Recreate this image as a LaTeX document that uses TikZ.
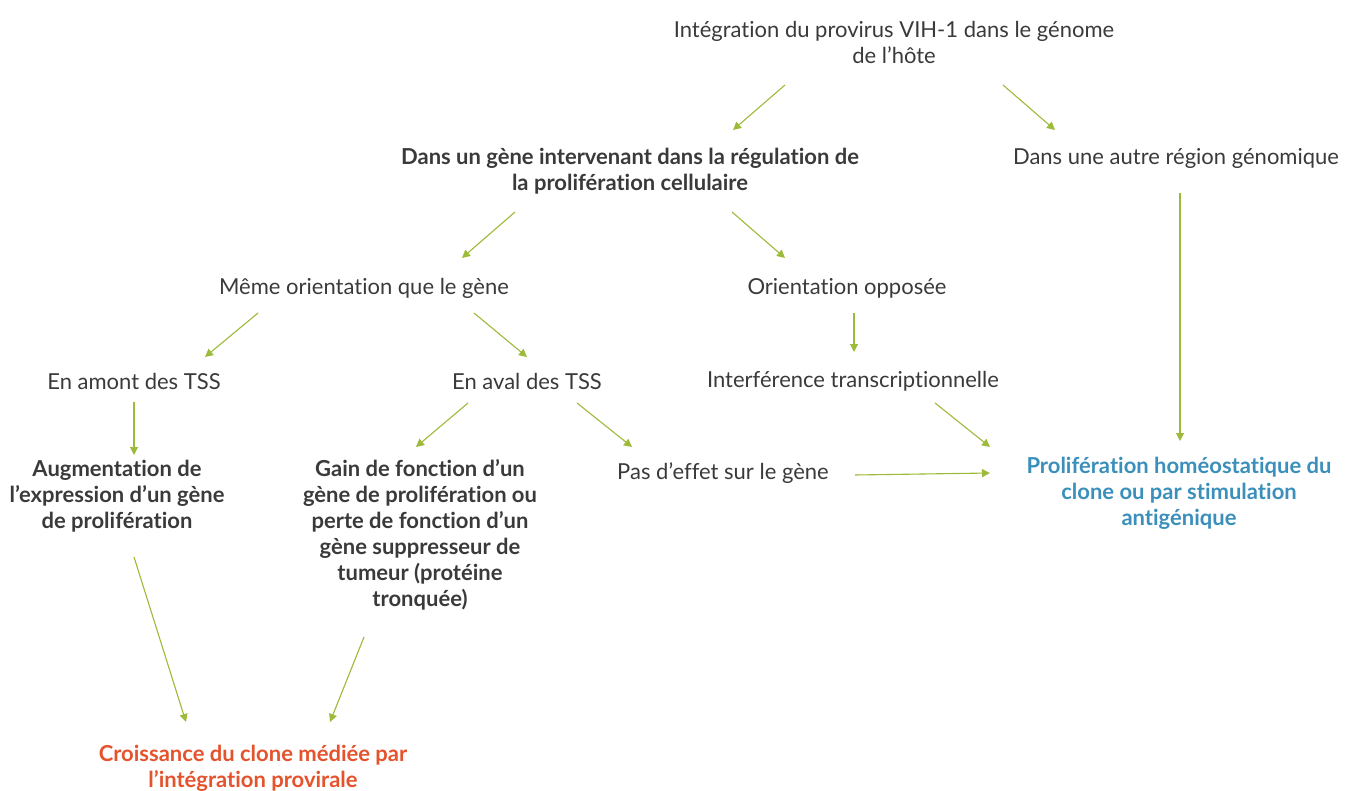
\documentclass[tikz,border=0pt]{standalone}
\usepackage{fontspec}
\setmainfont{Lato}[Ligatures=NoCommon]
\usepackage{tikz}
\usetikzlibrary{arrows.meta, calc}
\definecolor{textgray}{HTML}{3A3A3A}
\definecolor{arrowgreen}{HTML}{9DBB3B}
\definecolor{clonered}{HTML}{E5532D}
\definecolor{homeoblue}{HTML}{3B8FBB}

\begin{document}
\begin{tikzpicture}[
    x=0.5pt, y=-0.5pt,
    >={Triangle[length=4pt, width=4pt]},
    txt/.style={align=center, inner sep=0pt, text=textgray, font=\fontsize{11}{13}\selectfont},
    bold/.style={txt, font=\fontsize{11}{13}\selectfont\bfseries},
    flow/.style={->, draw=arrowgreen, fill=arrowgreen, line width=0.55pt},
]
    \useasboundingbox (0,0) rectangle (1348,791);

    % Nodes
    \node[txt] (integ) at (894,42) {Intégration du provirus VIH-1 dans le génome\\de l’hôte};
    \node[bold] (gene) at (630,171) {Dans un gène intervenant dans la régulation de\\la prolifération cellulaire};
    \node[txt] (autre) at (1176,158) {Dans une autre région génomique};
    \node[txt] (meme) at (364,288) {Même orientation que le gène};
    \node[txt] (opp) at (847,288) {Orientation opposée};
    \node[txt] (amont) at (134,381) {En amont des TSS};
    \node[txt] (aval) at (527,381) {En aval des TSS};
    \node[txt] (interf) at (853,381) {Interférence transcriptionnelle};
    \node[bold] (augm) at (117,496) {Augmentation de\\l’expression d’un gène\\de prolifération};
    \node[bold] (gain) at (420,535) {Gain de fonction d’un\\gène de prolifération ou\\perte de fonction d’un\\gène suppresseur de\\tumeur (protéine\\tronquée)};
    \node[txt] (pas) at (723,473) {Pas d’effet sur le gène};
    \node[bold, text=homeoblue] (homeo) at (1179,493) {Prolifération homéostatique du\\clone ou par stimulation\\antigénique};
    \node[bold, text=clonered] (crois) at (253,768) {Croissance du clone médiée par\\l’intégration provirale};

    % Arrows
    \draw[flow] ($(integ)+(-109,43)$) -- ($(gene)+(103,-41)$);
    \draw[flow] ($(integ)+(109,43)$) -- ($(autre)+(-121,-28)$);
    \draw[flow] ($(gene)+(-115,41)$) -- ($(meme)+(98,-30)$);
    \draw[flow] ($(gene)+(102,41)$) -- ($(opp)+(-62,-30)$);
    \draw[flow] ($(autre)+(4,35)$) -- ($(homeo)+(1,-52)$);
    \draw[flow] ($(meme)+(-106,25)$) -- ($(amont)+(71,-24)$);
    \draw[flow] ($(meme)+(110,25)$) -- ($(aval)+(0,-24)$);
    \draw[flow] ($(opp)+(7,25)$) -- ($(interf)+(1,-29)$);
    \draw[flow] ($(amont)+(0,21)$) -- ($(augm)+(17,-41)$);
    \draw[flow] ($(aval)+(-59,22)$) -- ($(gain)+(-4,-88)$);
    \draw[flow] ($(aval)+(50,22)$) -- ($(pas)+(-91,-26)$);
    \draw[flow] ($(interf)+(82,22)$) -- ($(homeo)+(-189,-46)$);
    \draw[flow] ($(pas)+(132,2)$) -- ($(homeo)+(-189,-20)$);
    \draw[flow] ($(augm)+(17,61)$) -- ($(crois)+(-67,-46)$);
    \draw[flow] ($(gain)+(-56,102)$) -- ($(crois)+(77,-46)$);
\end{tikzpicture}
\end{document}
